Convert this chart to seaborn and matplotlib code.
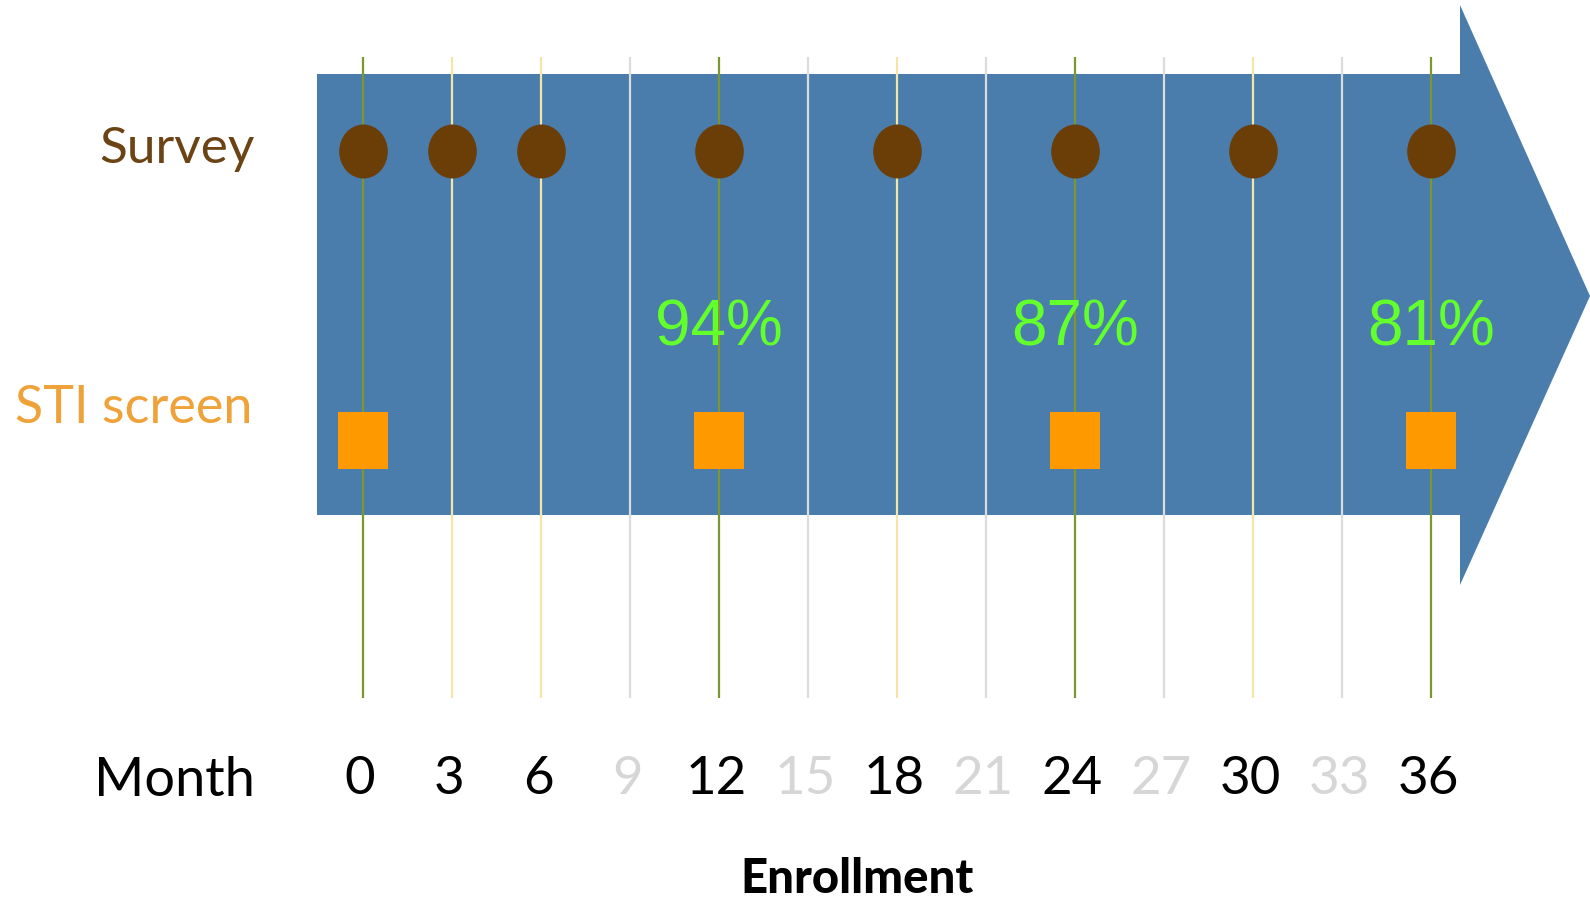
import numpy as np
import pandas as pd
import matplotlib
matplotlib.use("Agg")
import matplotlib.pyplot as plt
from matplotlib.path import Path
from matplotlib.markers import MarkerStyle
from matplotlib.patches import Polygon
import seaborn as sns

# ---- data -------------------------------------------------------------
months = list(range(0, 37, 3))
survey_months = [0, 3, 6, 12, 18, 24, 30, 36]
sti_months = [0, 12, 24, 36]
retention_months = [12, 24, 36]
retention_pct = [94, 87, 81]
row_labels = ["Survey", "STI screen", "Month"]
axis_title = "Enrollment"

# ---- layout (figure pixels, y measured from the top) -------------------
W, H = 1590, 899
X0_PX, PX_PER_MONTH = 363.0, 29.67


def month_at(px):
    return (px - X0_PX) / PX_PER_MONTH


Y_SURVEY, Y_STI, Y_PCT = 151, 440, 345
Y_LINE_TOP, Y_LINE_BOT = 57, 698

BLUE = "#4a7dab"
BROWN = "#6b3e08"
ORANGE = "#ff9900"
GREEN_TXT = "#62ff2c"

sns.set_style("white")
plt.rcParams["font.family"] = ["Lato", "DejaVu Sans"]

fig = plt.figure(figsize=(W / 100, H / 100), dpi=100)
ax = fig.add_axes([0, 0, 1, 1])

# big timeline arrow
arrow = Polygon(
    [(month_at(317), 74), (month_at(1460), 74), (month_at(1460), 5),
     (month_at(1590), 296), (month_at(1460), 585), (month_at(1460), 515),
     (month_at(317), 515)],
    closed=True, facecolor=BLUE, edgecolor="none", zorder=1)
ax.add_patch(arrow)

# vertical guide lines, coloured by which assessments take place
line_colors = []
for m in months:
    if m in sti_months:
        line_colors.append("#7d9630")
    elif m in survey_months:
        line_colors.append("#f3e4a8")
    else:
        line_colors.append("#dcdcdc")
ax.vlines(months, Y_LINE_TOP, Y_LINE_BOT, colors=line_colors, lw=1.6, zorder=2)

# slightly tall ellipse and rectangle markers
circ = Path.unit_circle()
ellipse_marker = MarkerStyle(Path(circ.vertices * np.array([0.9, 1.0]), circ.codes))
rect_marker = MarkerStyle(Path([(-0.447, -0.5), (0.447, -0.5), (0.447, 0.5),
                                (-0.447, 0.5), (-0.447, -0.5)],
                               [Path.MOVETO, Path.LINETO, Path.LINETO,
                                Path.LINETO, Path.CLOSEPOLY]))

pt = 72 / 100  # points per pixel
survey_df = pd.DataFrame({"month": survey_months, "row": Y_SURVEY})
sti_df = pd.DataFrame({"month": sti_months, "row": Y_STI})
sns.scatterplot(data=survey_df, x="month", y="row", marker=ellipse_marker,
                s=(54 * pt) ** 2, color=BROWN, linewidth=0, ax=ax, zorder=4,
                legend=False)
sns.scatterplot(data=sti_df, x="month", y="row", marker=rect_marker,
                s=(57 * pt) ** 2, color=ORANGE, linewidth=0, ax=ax, zorder=4,
                legend=False)
ax.set_xlim(month_at(0), month_at(W))
ax.set_ylim(H, 0)
ax.axis("off")

# retention percentages
for m, p in zip(retention_months, retention_pct):
    ax.text(m, Y_PCT, f"{p}%", ha="center", va="baseline", fontsize=46,
            color=GREEN_TXT, family=["Liberation Sans", "DejaVu Sans"], zorder=5)

# row labels
ax.text(month_at(255), 163, row_labels[0], ha="right", va="baseline",
        fontsize=37, color="#6b4314")
ax.text(month_at(252), 423, row_labels[1], ha="right", va="baseline",
        fontsize=37.5, color="#efa23a")
ax.text(month_at(255), 796, row_labels[2], ha="right", va="baseline",
        fontsize=39, color="black")

# month tick labels
for m in months:
    c = "black" if m in survey_months else "#d6d6d6"
    ax.text(m - 0.1, 794, str(m), ha="center", va="baseline", fontsize=38,
            color=c)

ax.text(month_at(857), 893, axis_title, ha="center", va="baseline",
        fontsize=34, fontweight="black", color="black")

fig.savefig("out.png", dpi=100)
